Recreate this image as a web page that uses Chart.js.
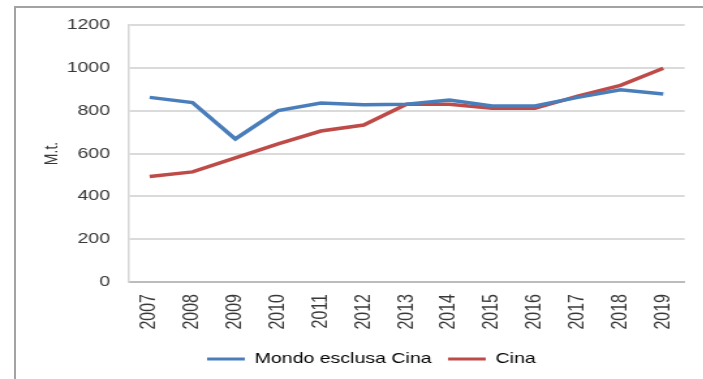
<!DOCTYPE html>
<html lang="it">
<head>
<meta charset="utf-8">
<title>Mondo esclusa Cina / Cina</title>
<script src="https://cdn.jsdelivr.net/npm/chart.js@4.4.1/dist/chart.umd.min.js"></script>
<style>
  html, body { margin: 0; padding: 0; background: #ffffff; }
  body { width: 703px; height: 379px; overflow: hidden; position: relative; }
  #frame {
    position: absolute; left: 14px; top: 6px; right: 0; bottom: 0;
    border-top: 2px solid #a3a3a3; border-left: 2px solid #a3a3a3;
  }
  /* the chart is laid out narrow and widened horizontally */
  #wrap {
    position: absolute; left: 0; top: 0;
    width: 540.77px; height: 379px;
    transform: scaleX(1.3); transform-origin: 0 0;
  }
</style>
</head>
<body>
<div id="frame"></div>
<div id="wrap"><canvas id="chart"></canvas></div>
<script>
// Years on the category axis
const years = ['2007', '2008', '2009', '2010', '2011', '2012', '2013',
               '2014', '2015', '2016', '2017', '2018', '2019'];

// Series (M.t.)
const mondoEsclusaCina = [862, 838, 668, 800, 836, 828, 830, 850, 822, 822, 862, 898, 878];
const cina = [493, 514, 580, 645, 705, 733, 830, 830, 811, 811, 868, 918, 998];

// Value axis ticks
const yTicks = [0, 200, 400, 600, 800, 1000, 1200];

const seriesNames = ['Mondo esclusa Cina', 'Cina'];
const seriesColors = ['#4a7ebb', '#be4b48'];

const font = 'Liberation Sans, Arial, sans-serif';
const textColor = '#383838';

new Chart(document.getElementById('chart'), {
  type: 'line',
  data: {
    labels: years,
    datasets: [
      { label: seriesNames[0], data: mondoEsclusaCina },
      { label: seriesNames[1], data: cina }
    ].map((d, i) => Object.assign(d, {
      borderColor: seriesColors[i],
      backgroundColor: seriesColors[i],
      borderWidth: 3.5,
      pointRadius: 0,
      tension: 0,
      fill: false
    }))
  },
  options: {
    responsive: true,
    maintainAspectRatio: false,
    animation: false,
    events: [],
    layout: { padding: { top: 25, left: 38, right: 8.5, bottom: 2.5 } },
    plugins: {
      tooltip: { enabled: false },
      legend: {
        position: 'bottom',
        labels: {
          font: { family: font, size: 15 },
          color: textColor,
          boxWidth: 29,
          boxHeight: 3,
          padding: 12.6,
          generateLabels: (chart) => chart.data.datasets.map((ds, i) => ({
            text: ds.label,
            fillStyle: ds.borderColor,
            strokeStyle: ds.borderColor,
            lineWidth: 0,
            datasetIndex: i
          }))
        }
      }
    },
    scales: {
      x: {
        offset: true,
        grid: { display: false, drawTicks: false },
        border: { display: true, color: '#bcbcbc', width: 2 },
        ticks: {
          minRotation: 90,
          maxRotation: 90,
          padding: 12,
          color: textColor,
          font: { family: font, size: 16 }
        },
        afterFit: (s) => { s.height = 56.9; }
      },
      y: {
        min: 0,
        max: 1200,
        afterBuildTicks: (s) => { s.ticks = yTicks.map(v => ({ value: v })); },
        grid: { color: '#dadada', lineWidth: 2, drawTicks: false },
        border: { display: true, color: '#d6d6d6', width: 1.5 },
        ticks: {
          padding: 14,
          color: textColor,
          font: { family: font, size: 15 },
          callback: (v) => String(v)
        },
        title: {
          display: true,
          text: 'M.t.',
          color: textColor,
          font: { family: font, size: 14 },
          padding: { top: -6.4, bottom: 0 }
        },
        afterFit: (s) => { s.width = 60.5; }
      }
    }
  }
});
</script>
</body>
</html>
